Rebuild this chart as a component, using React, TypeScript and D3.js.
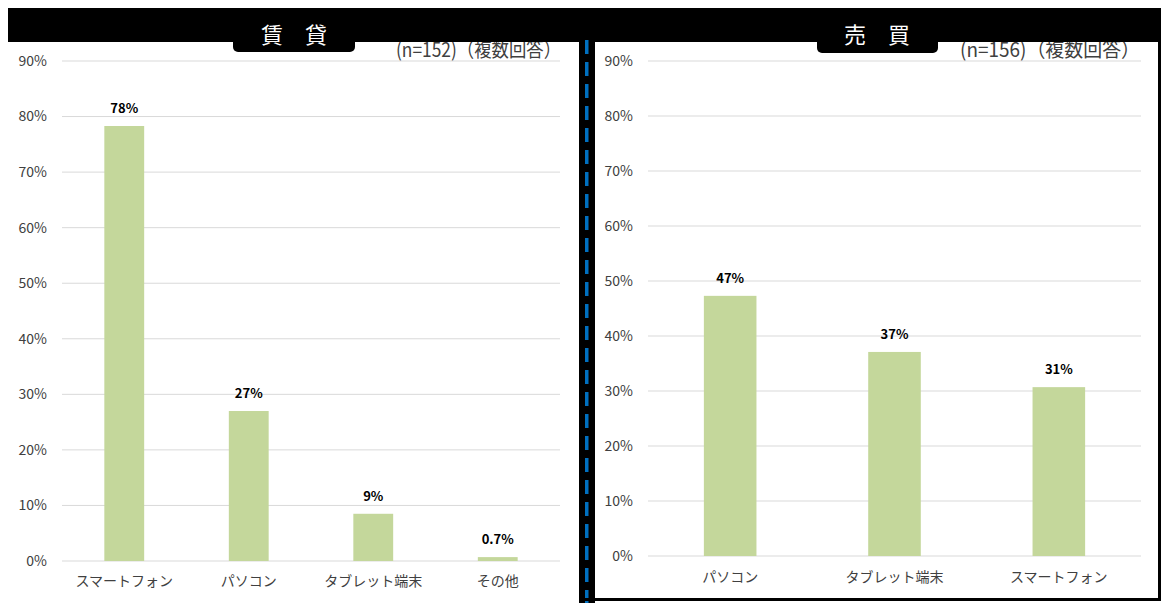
import React from "react";
import * as d3 from "d3";

const leftCategories = ["スマートフォン", "パソコン", "タブレット端末", "その他"];
const leftValues = [78.3, 27.0, 8.5, 0.7];
const leftLabels = ["78%", "27%", "9%", "0.7%"];

const rightCategories = ["パソコン", "タブレット端末", "スマートフォン"];
const rightValues = [47.3, 37.1, 30.7];
const rightLabels = ["47%", "37%", "31%"];

const yTicks = [0, 10, 20, 30, 40, 50, 60, 70, 80, 90];
const leftTitle = "賃　貸";
const rightTitle = "売　買";
const leftNote = "(n=152)（複数回答）";
const rightNote = "(n=156)（複数回答）";

const FONT = "'Noto Sans CJK JP', 'Noto Sans', sans-serif";
const BAR = "#c4d79b";
const GRID = "#d9d9d9";
const AXIS_TEXT = "#404040";

type PanelProps = {
  cats: string[];
  vals: number[];
  labels: string[];
  x0: number;
  x1: number;
  yTop: number;
  yBottom: number;
  tickX: number;
  catY: number;
};

function Panel({ cats, vals, labels, x0, x1, yTop, yBottom, tickX, catY }: PanelProps) {
  const x = d3.scaleBand<string>().domain(cats).range([x0, x1]).paddingInner(0.68).paddingOuter(0.34);
  const y = d3.scaleLinear().domain([0, 90]).range([yBottom, yTop]);
  return (
    <g>
      {yTicks.map((t) => (
        <g key={t}>
          <line x1={x0} x2={x1} y1={y(t)} y2={y(t)} stroke={GRID} strokeWidth={1} />
          <text x={tickX} y={y(t)} dy="0.35em" textAnchor="end" fontSize={14} fill={AXIS_TEXT} fontFamily={FONT}>
            {t}%
          </text>
        </g>
      ))}
      {cats.map((c, i) => (
        <g key={c}>
          <rect x={x(c)!} y={y(vals[i])} width={x.bandwidth()} height={y(0) - y(vals[i])} fill={BAR} />
          <text
            x={x(c)! + x.bandwidth() / 2}
            y={y(vals[i]) - 13}
            textAnchor="middle"
            fontSize={13}
            fontWeight="bold"
            fill="#000"
            fontFamily={FONT}
          >
            {labels[i]}
          </text>
          <text
            x={x(c)! + x.bandwidth() / 2}
            y={catY}
            dy="0.35em"
            textAnchor="middle"
            fontSize={14}
            fill={AXIS_TEXT}
            fontFamily={FONT}
          >
            {c}
          </text>
        </g>
      ))}
    </g>
  );
}

export default function App() {
  const W = 1161;
  const H = 603;
  const dashes = d3.range(40, H, 22);
  return (
    <svg width={W} height={H} style={{ position: "absolute", left: 0, top: 0 }}>
      <rect x={0} y={0} width={W} height={H} fill="#fff" />
      {/* notes, partially hidden behind the black band */}
      <text x={561} y={57} textAnchor="end" fontSize={20} fill={AXIS_TEXT} fontFamily={FONT} textLength={165} lengthAdjust="spacingAndGlyphs">
        {leftNote}
      </text>
      <text x={1140} y={57} textAnchor="end" fontSize={20} fill={AXIS_TEXT} fontFamily={FONT} textLength={180} lengthAdjust="spacingAndGlyphs">
        {rightNote}
      </text>
      {/* black header band */}
      <rect x={8} y={8} width={W - 8} height={34} fill="#000" />
      {/* title tabs */}
      <rect x={233} y={28} width={122} height={24} rx={5} fill="#000" />
      <rect x={817} y={28} width={121} height={25} rx={5} fill="#000" />
      <text x={294} y={35} dy="0.35em" textAnchor="middle" fontSize={22} fill="#fff" fontFamily={FONT}>
        {leftTitle}
      </text>
      <text x={877} y={35} dy="0.35em" textAnchor="middle" fontSize={22} fill="#fff" fontFamily={FONT}>
        {rightTitle}
      </text>
      {/* separator */}
      <rect x={579} y={40} width={16} height={H - 40} fill="#000" />
      {dashes.map((d) => (
        <rect key={d} x={585} y={d} width={3.5} height={14} fill="#0070c0" />
      ))}
      {/* right panel border */}
      <rect x={1158} y={40} width={3} height={561} fill="#000" />
      <rect x={579} y={598} width={582} height={3} fill="#000" />

      <Panel
        cats={leftCategories}
        vals={leftValues}
        labels={leftLabels}
        x0={62}
        x1={560}
        yTop={61}
        yBottom={561}
        tickX={47}
        catY={581}
      />
      <Panel
        cats={rightCategories}
        vals={rightValues}
        labels={rightLabels}
        x0={648}
        x1={1141}
        yTop={61}
        yBottom={556}
        tickX={633}
        catY={577}
      />
    </svg>
  );
}
